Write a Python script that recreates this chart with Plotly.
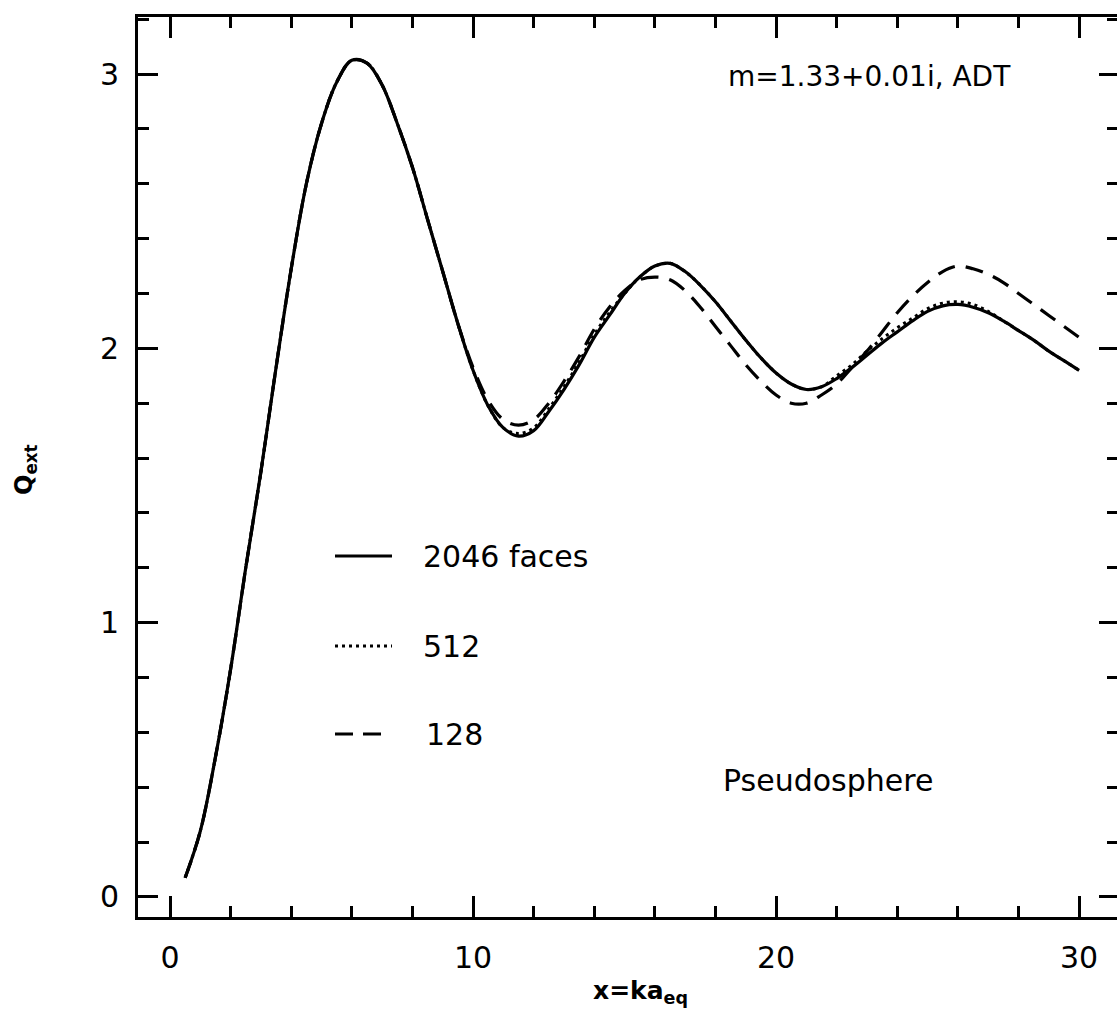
import plotly.graph_objects as go

# Size parameter x = k*a_eq at which the extinction efficiency was computed
ka = [0.5, 1.0, 1.5, 2.0, 2.5, 3.0, 3.5, 4.0, 4.5, 5.0,
      5.5, 6.0, 6.5, 7.0, 7.5, 8.0, 8.5, 9.0, 9.5, 10.0,
      10.5, 11.0, 11.5, 12.0, 12.5, 13.0, 13.5, 14.0, 14.5, 15.0,
      15.5, 16.0, 16.5, 17.0, 17.5, 18.0, 18.5, 19.0, 19.5, 20.0,
      20.5, 21.0, 21.5, 22.0, 22.5, 23.0, 23.5, 24.0, 24.5, 25.0,
      25.5, 26.0, 26.5, 27.0, 27.5, 28.0, 28.5, 29.0, 29.5, 30.0]

# Q_ext for the pseudosphere, 2046 faces
q_2046 = [0.07, 0.24, 0.51, 0.83, 1.20, 1.55, 1.93, 2.29, 2.60, 2.82,
          2.97, 3.05, 3.04, 2.96, 2.82, 2.66, 2.47, 2.28, 2.09, 1.92,
          1.79, 1.71, 1.68, 1.70, 1.77, 1.85, 1.94, 2.04, 2.12, 2.20,
          2.26, 2.30, 2.31, 2.28, 2.23, 2.17, 2.10, 2.03, 1.965, 1.91,
          1.87, 1.85, 1.86, 1.89, 1.93, 1.975, 2.02, 2.06, 2.10, 2.135,
          2.155, 2.16, 2.15, 2.13, 2.10, 2.065, 2.03, 1.99, 1.955, 1.92]

# 512 faces
q_512 = [0.07, 0.24, 0.51, 0.83, 1.20, 1.55, 1.93, 2.29, 2.60, 2.82,
         2.97, 3.05, 3.04, 2.96, 2.82, 2.66, 2.47, 2.28, 2.09, 1.92,
         1.79, 1.71, 1.69, 1.71, 1.78, 1.86, 1.95, 2.05, 2.13, 2.20,
         2.26, 2.30, 2.31, 2.28, 2.23, 2.17, 2.10, 2.03, 1.965, 1.91,
         1.87, 1.85, 1.86, 1.90, 1.94, 1.99, 2.035, 2.075, 2.11, 2.145,
         2.165, 2.17, 2.16, 2.135, 2.10, 2.065, 2.03, 1.99, 1.955, 1.92]

# 128 faces
q_128 = [0.07, 0.24, 0.51, 0.83, 1.20, 1.55, 1.93, 2.29, 2.60, 2.82,
         2.97, 3.05, 3.04, 2.96, 2.82, 2.66, 2.47, 2.28, 2.09, 1.93,
         1.81, 1.74, 1.72, 1.74, 1.80, 1.88, 1.97, 2.07, 2.15, 2.21,
         2.25, 2.26, 2.25, 2.21, 2.15, 2.08, 2.01, 1.94, 1.88, 1.83,
         1.80, 1.80, 1.83, 1.87, 1.93, 1.99, 2.06, 2.13, 2.19, 2.24,
         2.28, 2.30, 2.29, 2.27, 2.24, 2.20, 2.16, 2.12, 2.08, 2.04]

legend_labels = ["2046 faces", "512", "128"]

W, H = 1117, 1019
ML, MR, MT, MB = 138, 0, 17, 102
PW, PH = W - ML - MR, H - MT - MB
FONT = "DejaVu Sans"
INK = "black"

X_RANGE = [-1.056, 31.25]
Y_RANGE = [-0.073, 3.208]


def px(x):
    """Horizontal pixel position -> paper fraction."""
    return (x - ML) / PW


def py(y):
    """Vertical pixel position -> paper fraction."""
    return (H - MB - y) / PH


styles = {
    "2046 faces": dict(color=INK, width=3.2, dash="solid"),
    "512": dict(color=INK, width=3, dash="3px,4px"),
    "128": dict(color=INK, width=3.2, dash="18px,11px"),
}

fig = go.Figure()
for name, q in (("128", q_128), ("2046 faces", q_2046), ("512", q_512)):
    fig.add_trace(go.Scatter(
        x=ka, y=q, mode="lines", name=name,
        line=dict(shape="spline", smoothing=1.0, **styles[name]),
        showlegend=False, hoverinfo="x+y+name",
    ))

# carrier for the right-hand tick axis (draws nothing)
fig.add_trace(go.Scatter(x=[ka[0]], y=[q_2046[0]], yaxis="y2", mode="markers",
                         marker=dict(opacity=0), showlegend=False,
                         hoverinfo="skip"))

# hand-drawn key: sample line + label
key_rows = [(556, 335, 392), (646, 335, 392), (734, 335, 382)]
for label, (yk, x0, x1) in zip(legend_labels, key_rows):
    st = styles[label]
    fig.add_shape(type="line", xref="paper", yref="paper",
                  x0=px(x0), x1=px(x1), y0=py(yk), y1=py(yk),
                  line=dict(color=INK, width=3,
                            dash="18px,10px" if label == "128" else st["dash"]))
    fig.add_annotation(text=label, xref="paper", yref="paper",
                       x=px(421 if label != "128" else 424), y=py(yk),
                       xanchor="left", yanchor="middle", showarrow=False,
                       font=dict(family=FONT, size=30, color=INK))

fig.add_annotation(text="m=1.33+0.01i, ADT", xref="paper", yref="paper",
                   x=px(726), y=py(76), xanchor="left", yanchor="middle",
                   showarrow=False, font=dict(family=FONT, size=28, color=INK))
fig.add_annotation(text="Pseudosphere", xref="paper", yref="paper",
                   x=px(721), y=py(780), xanchor="left", yanchor="middle",
                   showarrow=False, font=dict(family=FONT, size=30, color=INK))

# axis titles
fig.add_annotation(text="<b>x=ka<sub>eq</sub></b>", xref="paper", yref="paper",
                   x=px(640), y=py(992), xanchor="center", yanchor="middle",
                   showarrow=False, font=dict(family=FONT, size=25, color=INK))
fig.add_annotation(text="<b>Q<sub>ext</sub></b>", xref="paper", yref="paper",
                   x=px(25), y=py(470), xanchor="center", yanchor="middle",
                   textangle=-90, showarrow=False,
                   font=dict(family=FONT, size=24, color=INK))

tick_font = dict(family=FONT, size=30, color=INK)

fig.update_layout(
    width=W, height=H,
    margin=dict(l=ML, r=MR, t=MT, b=MB, pad=0),
    paper_bgcolor="white", plot_bgcolor="white",
    xaxis=dict(
        range=X_RANGE, showgrid=False, zeroline=False,
        showline=True, linecolor=INK, linewidth=3, mirror="ticks",
        ticks="inside", ticklen=21, tickwidth=2.5, tickcolor=INK,
        tick0=0, dtick=10, tickfont=tick_font, ticklabelstandoff=12,
        minor=dict(ticks="inside", dtick=2, tick0=0, ticklen=11,
                   tickwidth=2.5, tickcolor=INK, showgrid=False),
    ),
    yaxis=dict(
        range=Y_RANGE, showgrid=False, zeroline=False,
        showline=True, linecolor=INK, linewidth=3,
        ticks="inside", ticklen=20, tickwidth=2.5, tickcolor=INK,
        tick0=0, dtick=1, tickfont=tick_font, ticklabelstandoff=10,
        minor=dict(ticks="inside", dtick=0.2, tick0=0, ticklen=11,
                   tickwidth=2.5, tickcolor=INK, showgrid=False),
    ),
    yaxis2=dict(
        overlaying="y", side="right", anchor="x", range=Y_RANGE,
        showgrid=False, zeroline=False, showline=False,
        showticklabels=False,
        ticks="inside", ticklen=18, tickwidth=2.5, tickcolor=INK,
        tick0=0, dtick=1,
        minor=dict(ticks="inside", dtick=0.2, tick0=0, ticklen=10,
                   tickwidth=2.5, tickcolor=INK, showgrid=False),
    ),
)

fig.write_html("out.html")
